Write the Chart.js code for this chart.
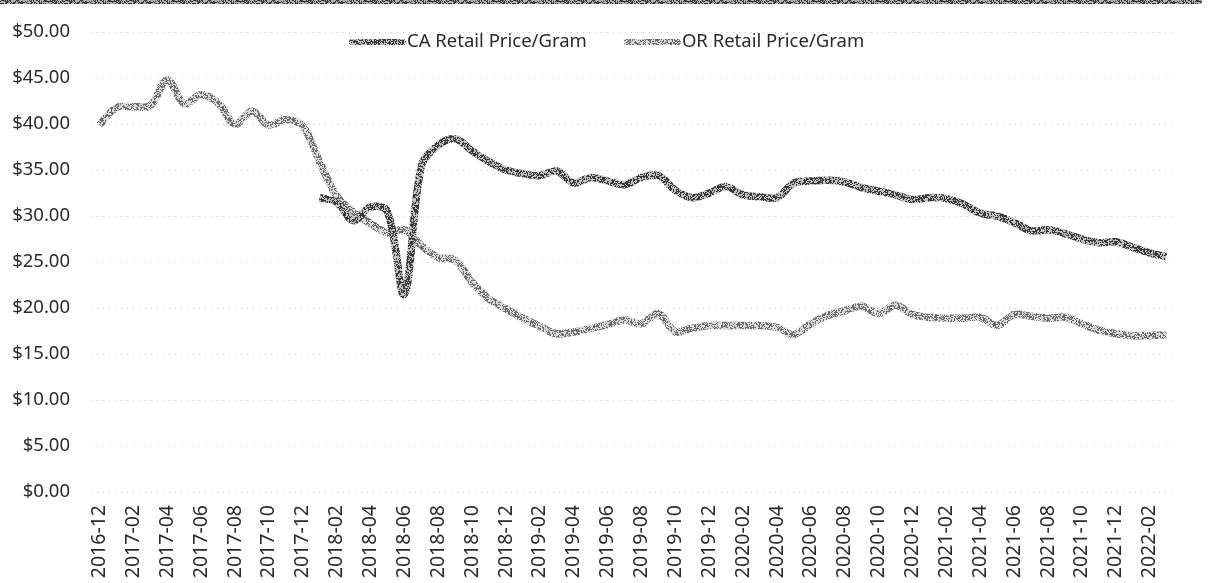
<!DOCTYPE html>
<html>
<head>
<meta charset="utf-8">
<script src="https://cdn.jsdelivr.net/npm/chart.js@4"></script>
<style>
  html, body { margin: 0; background: #fff; }
  #wrap { width: 1209px; height: 583px; position: relative; }
</style>
</head>
<body>
<div id="wrap"><canvas id="chart"></canvas></div>
<script>
var months = [
  '2016-12',
  '2017-01', '2017-02', '2017-03', '2017-04', '2017-05', '2017-06', '2017-07', '2017-08', '2017-09', '2017-10', '2017-11', '2017-12',
  '2018-01', '2018-02', '2018-03', '2018-04', '2018-05', '2018-06', '2018-07', '2018-08', '2018-09', '2018-10', '2018-11', '2018-12',
  '2019-01', '2019-02', '2019-03', '2019-04', '2019-05', '2019-06', '2019-07', '2019-08', '2019-09', '2019-10', '2019-11', '2019-12',
  '2020-01', '2020-02', '2020-03', '2020-04', '2020-05', '2020-06', '2020-07', '2020-08', '2020-09', '2020-10', '2020-11', '2020-12',
  '2021-01', '2021-02', '2021-03', '2021-04', '2021-05', '2021-06', '2021-07', '2021-08', '2021-09', '2021-10', '2021-11', '2021-12',
  '2022-01', '2022-02', '2022-03'
];

// CA series starts in 2018-01
var caPrice = [
  null, null, null, null, null, null, null, null, null, null, null, null, null,
  32.0, 31.5, 29.5, 31.0, 30.5, 21.5, 35.4, 37.7, 38.4, 37.1,
  35.9, 35.0, 34.6, 34.4, 34.9, 33.6, 34.2, 33.8, 33.4, 34.2,
  34.4, 32.8, 32.0, 32.5, 33.2, 32.3, 32.1, 32.0, 33.6, 33.8,
  33.9, 33.7, 33.1, 32.7, 32.3, 31.8, 32.0, 31.9, 31.3, 30.3,
  30.0, 29.3, 28.4, 28.5, 28.1, 27.5, 27.1, 27.2, 26.6, 26.0,
  25.6
];

var orPrice = [
  39.9, 41.8, 41.9, 42.0, 44.8, 42.2, 43.2, 42.3, 40.0, 41.4,
  39.9, 40.5, 39.8, 35.9, 32.2, 30.4, 29.2, 28.2, 28.5, 26.8,
  25.5, 25.2, 22.8, 21.0, 19.9, 18.9, 18.0, 17.2, 17.4, 17.8,
  18.2, 18.7, 18.3, 19.4, 17.4, 17.8, 18.1, 18.1, 18.1, 18.1,
  17.9, 17.1, 18.3, 19.2, 19.7, 20.2, 19.4, 20.3, 19.3, 19.0,
  18.9, 18.9, 19.0, 18.1, 19.3, 19.1, 18.9, 19.0, 18.3, 17.6,
  17.2, 17.0, 17.0, 17.1
];

var seriesNames = ['CA Retail Price/Gram', 'OR Retail Price/Gram'];
var yTicks = [0, 5, 10, 15, 20, 25, 30, 35, 40, 45, 50];

var FONT = '"Noto Sans", "Open Sans", sans-serif';

// grainy stipple, like the scanned print
function grain(dark, light, share, seed) {
  var cv = document.createElement('canvas');
  cv.width = 64; cv.height = 64;
  var g = cv.getContext('2d');
  g.fillStyle = light;
  g.fillRect(0, 0, 64, 64);
  g.fillStyle = dark;
  for (var y = 0; y < 64; y++) {
    for (var x = 0; x < 64; x++) {
      var n = Math.imul(x + 17, 374761393) ^ Math.imul(y + 31, 668265263) ^ seed;
      n = Math.imul(n ^ (n >>> 13), 1274126177);
      n = ((n ^ (n >>> 16)) >>> 0) / 4294967296;
      if (n < share) g.fillRect(x, y, 1, 1);
    }
  }
  return g.createPattern(cv, 'repeat');
}

var caStroke = grain('#3a3a3a', '#c2c2c2', 0.52, 12345);
var orStroke = grain('#6a6a6a', '#dadada', 0.45, 67890);
var bandStroke = grain('#3a3a3a', '#b0b0b0', 0.5, 24680);

var extras = {
  id: 'extras',
  beforeDraw: function(chart) {
    var ctx = chart.ctx;
    ctx.save();
    ctx.fillStyle = bandStroke;
    ctx.fillRect(0, 0, 1202, 4);
    ctx.restore();
  },
  afterDraw: function(chart) {
    var ctx = chart.ctx;
    ctx.save();
    ctx.font = '18.5px ' + FONT;
    ctx.textBaseline = 'middle';
    ctx.fillStyle = '#2a2a2a';
    ctx.lineCap = 'round';
    ctx.lineWidth = 6;
    var x = 352, y = 42;
    chart.data.datasets.forEach(function(ds) {
      ctx.strokeStyle = ds.borderColor;
      ctx.beginPath();
      ctx.moveTo(x, y);
      ctx.lineTo(x + 51, y);
      ctx.stroke();
      ctx.fillText(ds.label, x + 55, y);
      x += 55 + ctx.measureText(ds.label).width + 40;
    });
    ctx.restore();
  }
};

new Chart(document.getElementById('chart'), {
  type: 'line',
  data: {
    labels: months,
    datasets: [
      {
        label: seriesNames[0],
        data: caPrice,
        borderColor: caStroke,
        borderWidth: 7.5,
        tension: 0.35,
        pointRadius: 0,
        spanGaps: false
      },
      {
        label: seriesNames[1],
        data: orPrice,
        borderColor: orStroke,
        borderWidth: 7.5,
        tension: 0.35,
        pointRadius: 0
      }
    ]
  },
  options: {
    responsive: true,
    maintainAspectRatio: false,
    animation: false,
    layout: { padding: { top: 25, right: 34, bottom: 0, left: 0 } },
    plugins: {
      legend: { display: false },
      tooltip: { enabled: false }
    },
    scales: {
      x: {
        offset: true,
        grid: { display: false, drawTicks: false },
        border: { display: false },
        afterFit: function(scale) { scale.height = 91; },
        ticks: {
          autoSkip: false,
          minRotation: 90,
          maxRotation: 90,
          padding: 13,
          color: '#2a2a2a',
          font: { family: FONT, size: 19.5 },
          callback: function(v, i) { return i % 2 === 0 ? months[i] : ''; }
        }
      },
      y: {
        min: 0,
        max: 50,
        afterFit: function(scale) { scale.width = 91; },
        afterBuildTicks: function(scale) {
          scale.ticks = yTicks.map(function(v) { return { value: v }; });
        },
        grid: { color: '#c4c4c4', lineWidth: 1, drawTicks: false },
        border: { display: false, dash: [1, 5] },
        ticks: {
          padding: 21,
          color: '#2a2a2a',
          font: { family: FONT, size: 18.5 },
          callback: function(v) { return '$' + v.toFixed(2); }
        }
      }
    }
  },
  plugins: [extras]
});
</script>
</body>
</html>
